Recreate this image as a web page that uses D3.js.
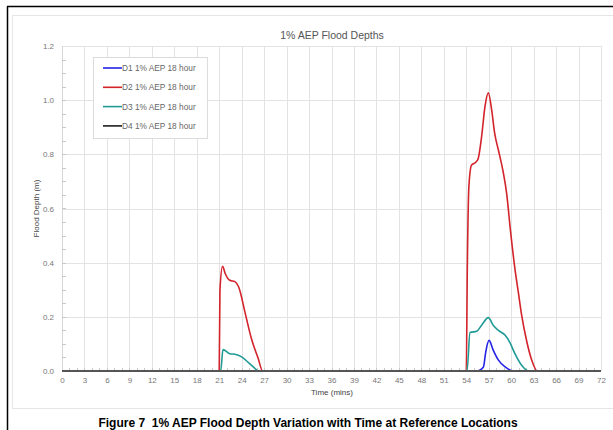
<!DOCTYPE html>
<html>
<head>
<meta charset="utf-8">
<script src="https://cdn.jsdelivr.net/npm/d3@7"></script>
<style>
  body { margin: 0; background: #fff; }
  svg { display: block; }
</style>
</head>
<body>
<script>
// values
var seriesNames = ["D1 1% AEP 18 hour", "D2 1% AEP 18 hour", "D3 1% AEP 18 hour", "D4 1% AEP 18 hour"];
var seriesColors = ["#2424e6", "#d3232b", "#209b95", "#1e1e1e"];

var d1Time  = [0, 55.4, 56.3, 56.6, 57.05, 57.6, 58.3, 59.2, 60.3, 72];
var d1Depth = [0, 0, 0.015, 0.07, 0.113, 0.077, 0.04, 0.015, 0, 0];

var d2Time  = [0, 21.0, 21.1, 21.45, 21.8, 22.4, 23.1, 23.6, 24.5, 25.3, 26.2, 26.8,
               54.0, 54.15, 54.35, 54.7, 55.3, 55.6, 56.05, 56.5, 56.95, 57.4, 57.8, 58.3, 58.9, 59.4, 59.9,
               60.5, 60.95, 61.4, 62.1, 62.75, 63.5, 72];
var d2Depth = [0, 0, 0.3, 0.387, 0.36, 0.335, 0.33, 0.31, 0.21, 0.12, 0.047, 0,
               0, 0.4, 0.68, 0.76, 0.772, 0.785, 0.865, 0.976, 1.027, 0.963, 0.877, 0.815, 0.74, 0.655, 0.52,
               0.378, 0.292, 0.206, 0.107, 0.04, 0, 0];

var d3Time  = [0, 21.2, 21.5, 22.4, 23.1, 24.0, 24.9, 25.8, 26.2,
               54.1, 54.5, 55.4, 56.05, 56.95, 57.6, 58.3, 59.2, 59.8, 60.5, 61.4, 62.3, 72];
var d3Depth = [0, 0, 0.079, 0.064, 0.062, 0.052, 0.031, 0.009, 0,
               0, 0.142, 0.147, 0.169, 0.197, 0.169, 0.15, 0.132, 0.107, 0.064, 0.021, 0, 0];

var d4Time  = [0, 72];
var d4Depth = [0, 0];

var xTicks = d3.range(0, 73, 3);
var yTicks = [0, 0.2, 0.4, 0.6, 0.8, 1.0, 1.2];

var W = 613, H = 430;
var plotL = 62, plotR = 601, plotT = 46, plotB = 371;

var svg = d3.select("body").append("svg")
  .attr("width", W)
  .attr("height", H);

// page frame
svg.append("line").attr("x1", 7.5).attr("x2", 7.5).attr("y1", 6.5).attr("y2", H)
  .attr("stroke", "#000").attr("stroke-width", 1.5);
svg.append("line").attr("x1", 7).attr("x2", W).attr("y1", 6.5).attr("y2", 6.5)
  .attr("stroke", "#000").attr("stroke-width", 1.5);
svg.append("rect").attr("x", 12.5).attr("y", 15.5).attr("width", W).attr("height", 393)
  .attr("fill", "none").attr("stroke", "#e6e6e6");

var x = d3.scaleLinear().domain([0, 72]).range([plotL, plotR]);
var y = d3.scaleLinear().domain([0, 1.2]).range([plotB, plotT]);

// grid
svg.append("g").selectAll("line").data(xTicks.slice(1))
  .enter().append("line")
  .attr("x1", d => Math.round(x(d)) + 0.5).attr("x2", d => Math.round(x(d)) + 0.5)
  .attr("y1", plotT).attr("y2", plotB)
  .attr("stroke", "#e3e3e3");
svg.append("g").selectAll("line").data(yTicks.slice(1))
  .enter().append("line")
  .attr("x1", plotL).attr("x2", plotR)
  .attr("y1", d => Math.round(y(d)) + 0.5).attr("y2", d => Math.round(y(d)) + 0.5)
  .attr("stroke", "#e3e3e3");
svg.append("line").attr("x1", plotL + 0.5).attr("x2", plotL + 0.5).attr("y1", plotT).attr("y2", plotB)
  .attr("stroke", "#d6d6d6");

// minor ticks on y
svg.append("g").selectAll("line").data(d3.range(0.05, 1.2, 0.05))
  .enter().append("line")
  .attr("x1", plotL).attr("x2", plotL + 4)
  .attr("y1", d => Math.round(y(d)) + 0.5).attr("y2", d => Math.round(y(d)) + 0.5)
  .attr("stroke", "#c8c8c8");
// minor ticks on x
svg.append("g").selectAll("line").data(d3.range(1, 72, 1))
  .enter().append("line")
  .attr("x1", d => Math.round(x(d)) + 0.5).attr("x2", d => Math.round(x(d)) + 0.5)
  .attr("y1", plotB - 3).attr("y2", plotB)
  .attr("stroke", "#c8c8c8");

// axes (labels only)
var xAxis = d3.axisBottom(x).tickValues(xTicks).tickSize(0).tickPadding(6);
var gx = svg.append("g").attr("transform", "translate(0," + plotB + ")").call(xAxis);
gx.select(".domain").remove();
gx.selectAll("text").attr("fill", "#777").style("font-family", "Liberation Sans, Arial, sans-serif").style("font-size", "8px");

var yAxis = d3.axisLeft(y).tickValues(yTicks).tickSize(0).tickPadding(8).tickFormat(d3.format(".1f"));
var gy = svg.append("g").attr("transform", "translate(" + plotL + ",0)").call(yAxis);
gy.select(".domain").remove();
gy.selectAll("text").attr("fill", "#777").style("font-family", "Liberation Sans, Arial, sans-serif").style("font-size", "8px");

// series
var line = d3.line()
  .x(d => x(d[0]))
  .y(d => y(d[1]))
  .curve(d3.curveMonotoneX);

var series = [
  d3.zip(d1Time, d1Depth),
  d3.zip(d2Time, d2Depth),
  d3.zip(d3Time, d3Depth),
  d3.zip(d4Time, d4Depth)
];

svg.append("g").selectAll("path").data(series)
  .enter().append("path")
  .attr("d", d => line(d))
  .attr("fill", "none")
  .attr("stroke", (d, i) => seriesColors[i])
  .attr("stroke-width", 1.6);

// x axis line
svg.append("line").attr("x1", plotL).attr("x2", plotR).attr("y1", plotB).attr("y2", plotB)
  .attr("stroke", "#555").attr("stroke-width", 2);

// titles
svg.append("text").attr("x", 332).attr("y", 39).attr("text-anchor", "middle")
  .attr("fill", "#555").style("font-family", "Liberation Sans Narrow, Liberation Sans, sans-serif").style("font-size", "10.5px")
  .text("1% AEP Flood Depths");
svg.append("text").attr("x", 332).attr("y", 395).attr("text-anchor", "middle")
  .attr("fill", "#444").style("font-family", "Liberation Sans, Arial, sans-serif").style("font-size", "8px")
  .text("Time (mins)");
svg.append("text").attr("transform", "translate(39," + ((plotT + plotB) / 2) + ") rotate(-90)")
  .attr("text-anchor", "middle")
  .attr("fill", "#444").style("font-family", "Liberation Sans, Arial, sans-serif").style("font-size", "8px")
  .text("Flood Depth (m)");

// legend
var lg = svg.append("g");
lg.append("rect").attr("x", 93.5).attr("y", 57.5).attr("width", 114).attr("height", 81)
  .attr("fill", "#fff").attr("stroke", "#dcdcdc");
var items = lg.selectAll("g").data(seriesNames).enter().append("g")
  .attr("transform", (d, i) => "translate(0," + (68 + i * 19.3) + ")");
items.append("line").attr("x1", 103).attr("x2", 122).attr("y1", 0).attr("y2", 0)
  .attr("stroke", (d, i) => seriesColors[i]).attr("stroke-width", 1.6);
items.append("text").attr("x", 122).attr("y", 3)
  .attr("fill", "#666").style("font-family", "Liberation Sans, Arial, sans-serif").style("font-size", "8.3px")
  .text(d => d);

// caption
svg.append("text").attr("x", 308).attr("y", 427).attr("text-anchor", "middle")
  .attr("fill", "#000").style("font-family", "Liberation Sans, Arial, sans-serif")
  .style("font-size", "12px").style("font-weight", "bold")
  .attr("xml:space", "preserve")
  .text("Figure 7  1% AEP Flood Depth Variation with Time at Reference Locations");
</script>
</body>
</html>
